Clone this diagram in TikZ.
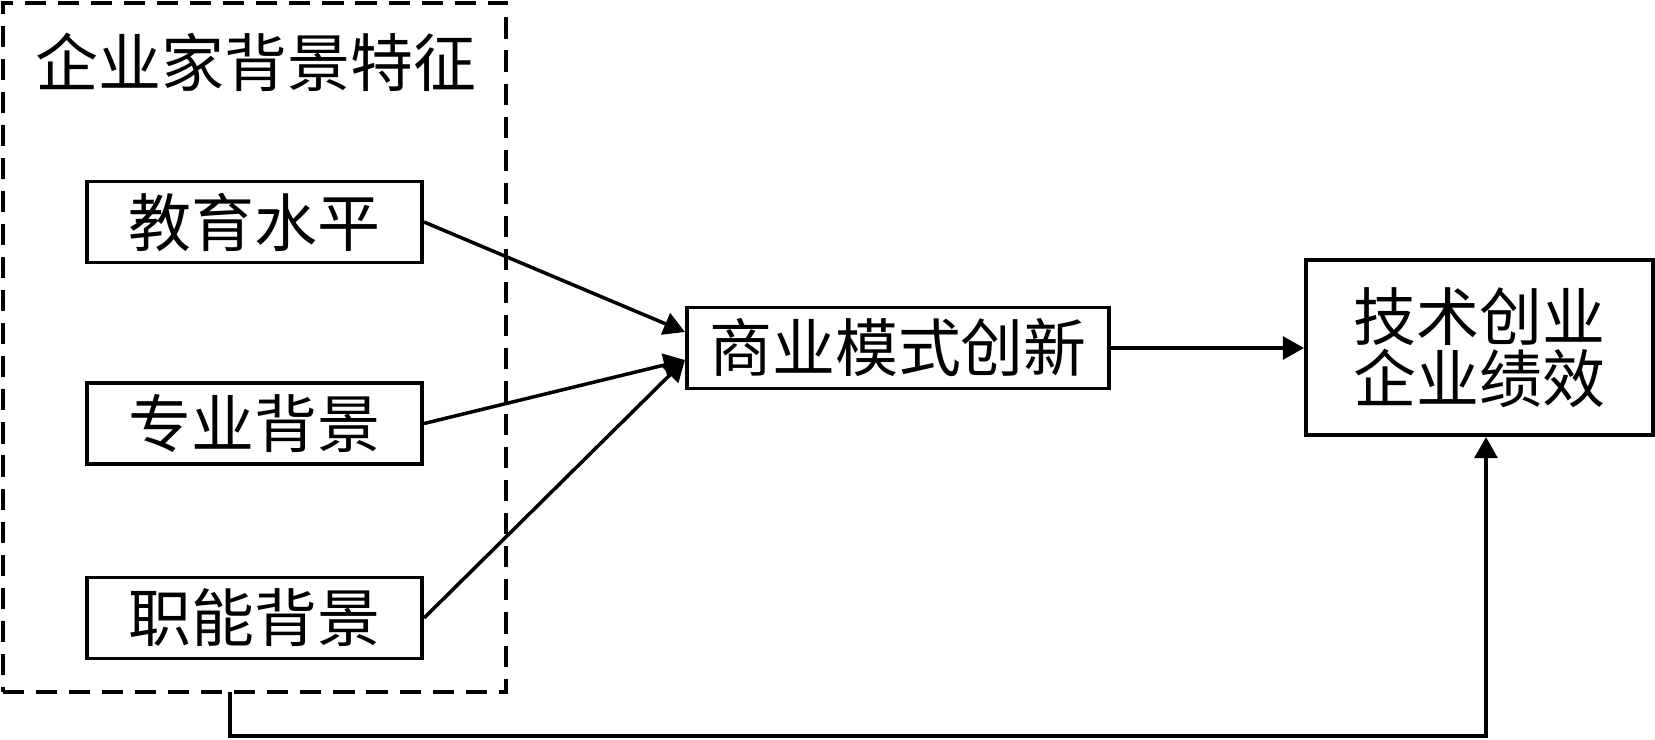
\documentclass[tikz,border=0pt]{standalone}
\usepackage{fontspec}
\setmainfont{Noto Sans CJK SC}
\usetikzlibrary{arrows.meta,calc}

\tikzset{
  box/.style={draw, line width=1.1pt, minimum height=0.81cm, inner sep=0pt,
    font=\fontsize{17.9pt}{17.6pt}\selectfont},
  frame/.style={draw, line width=1.1pt, dash pattern=on 6pt off 3.4pt,
    minimum width=5.03cm, minimum height=6.89cm, inner sep=0pt},
  link/.style={line width=1pt, -{Triangle[length=6pt,width=6.5pt]}},
}

\begin{document}
\begin{tikzpicture}[x=0.01cm, y=-0.01cm]
    \useasboundingbox (0,0) rectangle (1655,739);

    \node[frame] (frame) at (254.5,347.5) {};
    \node[font=\fontsize{17.9pt}{17.6pt}\selectfont] (title) at (256,62) {企业家背景特征};

    \node[box, minimum width=3.35cm] (edu) at (254.5,222) {教育水平};
    \node[box, minimum width=3.35cm] (major) at (254.5,423.5) {专业背景};
    \node[box, minimum width=3.35cm] (func) at (254.5,618) {职能背景};

    \node[box, minimum width=4.22cm] (biz) at (898,348) {商业模式创新};
    \node[box, minimum width=3.47cm, minimum height=1.75cm, align=center] (perf) at (1479.5,347.5) {技术创业\\企业绩效};

    \coordinate (fb) at (230,692);
    \coordinate (pb) at (1486,736);

    \draw[link] (edu.east) -> ($(biz.west)+(0,-16)$);
    \draw[link] (major.east) -> ($(biz.west)+(0,12)$);
    \draw[link] (func.east) -> ($(biz.west)+(0,12)$);
    \draw[link] (biz.east) -> (perf.west |- biz.east);
    \draw[link] (fb) |- (pb) -- (pb |- perf.south);

\end{tikzpicture}
\end{document}
